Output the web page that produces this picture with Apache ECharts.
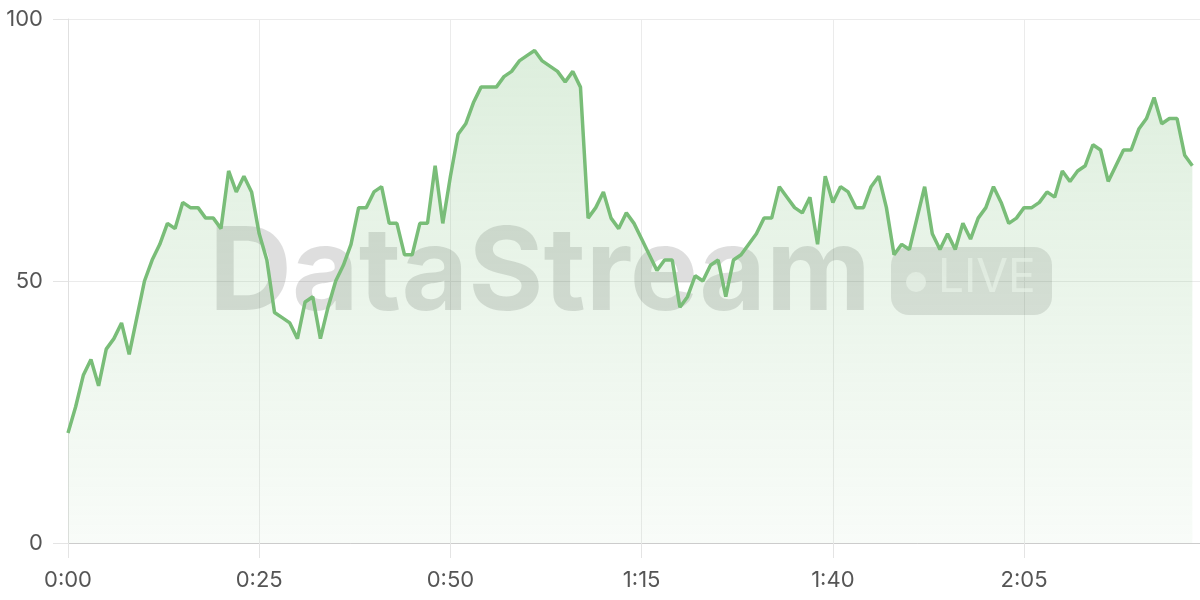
<!DOCTYPE html>
<html>
<head>
<meta charset="utf-8">
<script src="https://cdn.jsdelivr.net/npm/echarts@6/dist/echarts.min.js"></script>
<style>html,body{margin:0;padding:0;background:#fff}#c{width:1200px;height:600px}</style>
</head>
<body>
<div id="c"></div>
<script>
// samples, one per second starting at 0:00
const values = [21,26,32,35,30,37,39,42,36,43,50,54,57,61,60,65,64,64,62,62,60,71,67,70,67,
59,54,44,43,42,39,46,47,39,45,50,53,57,64,64,67,68,61,61,55,55,61,61,72,61,
70,78,80,84,87,87,87,89,90,92,93,94,92,91,90,88,90,87,62,64,67,62,60,63,61,
58,55,52,54,54,45,47,51,50,53,54,47,54,55,57,59,62,62,68,66,64,63,66,57,70,
65,68,67,64,64,68,70,64,55,57,56,62,68,59,56,59,56,61,58,62,64,68,65,61,62,
64,64,65,67,66,71,69,71,72,76,75,69,72,75,75,79,81,85,80,81,81,74,72];
const seconds = values.map((v, i) => i);
const yTicks = [0, 50, 100];
const watermarkText = 'DataStream';
const badgeText = 'LIVE';

function fmt(s) {
  const m = Math.floor(s / 60), r = Math.round(s % 60);
  return m + ':' + (r < 10 ? '0' : '') + r;
}

const chart = echarts.init(document.getElementById('c'), null, {renderer: 'canvas'});
chart.setOption({
  animation: false,
  grid: {left: 68, right: 0, top: 19, bottom: 57},
  xAxis: {
    type: 'value', min: 0, max: 148, interval: 25,
    axisLine: {show: true, lineStyle: {color: '#cccccc', width: 1}},
    axisTick: {show: true, length: 15, lineStyle: {color: '#e4e4e4'}},
    splitLine: {show: true, lineStyle: {color: '#ebebeb'}},
    axisLabel: {formatter: v => fmt(v), color: '#555', fontSize: 22, fontFamily: 'Inter', margin: 26, showMaxLabel: false}
  },
  yAxis: {
    type: 'value', min: 0, max: 100, interval: 50,
    axisLine: {show: true, lineStyle: {color: '#e0e0e0'}},
    axisTick: {show: true, length: 15, lineStyle: {color: '#e4e4e4'}},
    splitLine: {show: true, lineStyle: {color: '#ebebeb'}},
    axisLabel: {color: '#555', fontSize: 22, fontFamily: 'Inter', margin: 25}
  },
  graphic: [
    {type: 'text', left: 209, top: 218, z: 1, silent: true,
     style: {text: watermarkText, font: 'bold 115px Inter', fill: 'rgba(0,0,0,0.13)'}},
    {type: 'rect', left: 891, top: 247, z: 1, silent: true,
     shape: {width: 161, height: 68, r: 18}, style: {fill: 'rgba(0,0,0,0.11)'}},
    {type: 'circle', left: 906, top: 272, z: 1, silent: true,
     shape: {r: 10}, style: {fill: 'rgba(255,255,255,0.6)'}},
    {type: 'text', left: 938, top: 255, z: 1, silent: true,
     style: {text: badgeText, font: '46px Inter', fill: 'rgba(255,255,255,0.6)'}}
  ],
  series: [{
    type: 'line', z: 3,
    data: seconds.map((s, i) => [s, values[i]]),
    showSymbol: false, symbol: 'none',
    lineStyle: {color: '#79bd78', width: 3.5},
    itemStyle: {color: '#79bd78'},
    areaStyle: {
      color: new echarts.graphic.LinearGradient(0, 0, 0, 1, [
        {offset: 0, color: 'rgba(121,189,120,0.36)'},
        {offset: 1, color: 'rgba(121,189,120,0.07)'}
      ])
    }
  }]
});
</script>
</body>
</html>
